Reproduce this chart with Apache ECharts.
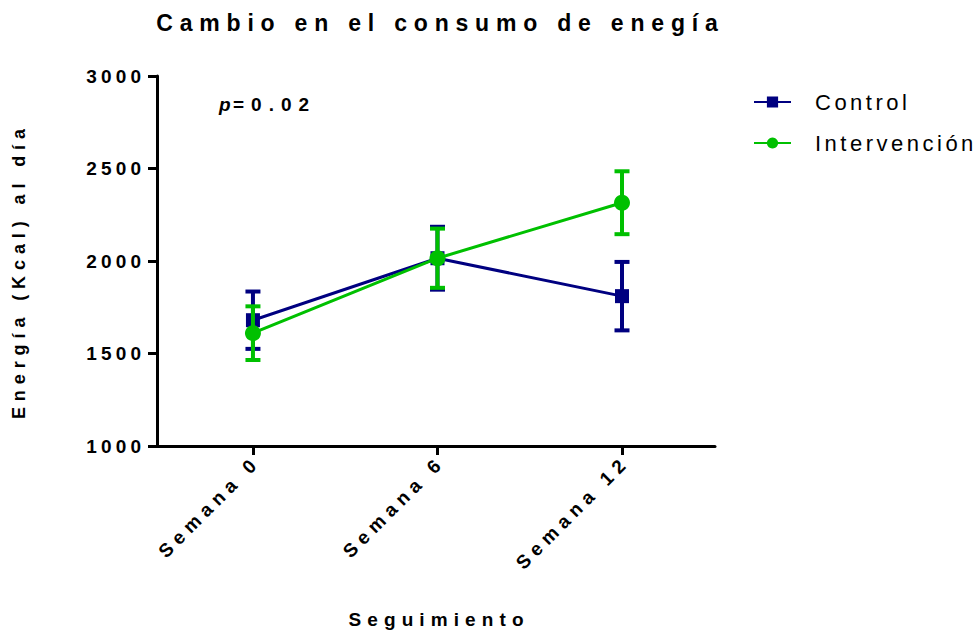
<!DOCTYPE html>
<html>
<head>
<meta charset="utf-8">
<script src="https://cdn.jsdelivr.net/npm/echarts@6/dist/echarts.min.js"></script>
<style>
  html, body { margin: 0; padding: 0; background: #fff; }
  #chart { width: 980px; height: 634px; }
</style>
</head>
<body>
<div id="chart"></div>
<script>
// Energy intake over follow-up: group means with standard error bars
const titleText = 'Cambio en el consumo de enegía';
const yAxisName = 'Energía (Kcal) al día';
const xAxisName = 'Seguimiento';
const categories = ['Semana 0', 'Semana 6', 'Semana 12'];
const seriesNames = ['Control', 'Intervención'];
const controlMean = [1680, 2015, 1810];
const controlSem = [155, 170, 185];
const intervMean = [1610, 2015, 2315];
const intervSem = [145, 160, 170];
const yTicks = [1000, 1500, 2000, 2500, 3000];
const pValueText = ['p', '=0.02'];

const FONT = '"Liberation Sans", Arial, Helvetica, sans-serif';
const BLUE = '#000080';
const GREEN = '#00C000';

// categories sit at positions 0, 1, 2 on a numeric axis with a little margin each side
const catPositions = categories.map((c, i) => i);

const chart = echarts.init(document.getElementById('chart'), null, { renderer: 'svg' });

function pairs(values) {
  return values.map((v, i) => [catPositions[i], v]);
}

function errorData(means, sems) {
  return means.map((m, i) => [catPositions[i], m, sems[i]]);
}

function renderErrorBar(params, api) {
  const idx = api.value(0);
  const mean = api.value(1);
  const sem = api.value(2);
  const top = api.coord([idx, mean + sem]);
  const bottom = api.coord([idx, mean - sem]);
  const half = 7.5;
  const style = { stroke: api.visual('color'), lineWidth: 4, fill: null };
  return {
    type: 'group',
    children: [
      { type: 'line', shape: { x1: top[0], y1: top[1], x2: bottom[0], y2: bottom[1] }, style },
      { type: 'line', shape: { x1: top[0] - half, y1: top[1], x2: top[0] + half, y2: top[1] }, style },
      { type: 'line', shape: { x1: bottom[0] - half, y1: bottom[1], x2: bottom[0] + half, y2: bottom[1] }, style }
    ]
  };
}

const option = {
  animation: false,
  backgroundColor: '#fff',
  textStyle: { fontFamily: FONT },
  title: {
    text: titleText,
    left: 432,
    top: 6,
    textAlign: 'center',
    textStyle: { fontFamily: FONT, fontSize: 23, fontWeight: 'bold', color: '#000' }
  },
  legend: {
    orient: 'vertical',
    left: 748,
    top: 86,
    itemWidth: 37,
    itemHeight: 14,
    itemGap: 19,
    data: seriesNames,
    textStyle: { fontFamily: FONT, fontSize: 22, color: '#000', padding: [0, 0, 0, 19] }
  },
  grid: { left: 157, right: 265, top: 76, bottom: 188, containLabel: false },
  xAxis: {
    type: 'value',
    min: -0.52,
    max: 2.504,
    name: xAxisName,
    nameLocation: 'middle',
    nameGap: 164,
    nameTextStyle: { fontFamily: FONT, fontSize: 19, fontWeight: 'bold', color: '#000' },
    axisLine: { onZero: false, lineStyle: { color: '#000', width: 3 } },
    axisTick: { show: true, length: 9, customValues: catPositions, lineStyle: { color: '#000', width: 3 } },
    axisLabel: {
      rotate: 45,
      margin: 17,
      customValues: catPositions,
      formatter: v => categories[Math.round(v)],
      fontFamily: FONT, fontSize: 19, fontWeight: 'bold', color: '#000'
    },
    splitLine: { show: false }
  },
  yAxis: {
    type: 'value',
    min: yTicks[0],
    max: yTicks[yTicks.length - 1],
    interval: yTicks[1] - yTicks[0],
    name: yAxisName,
    nameLocation: 'middle',
    nameGap: 129,
    nameTextStyle: { fontFamily: FONT, fontSize: 18, fontWeight: 'bold', color: '#000', padding: [0, 26, 0, 0] },
    axisLine: { show: true, onZero: false, lineStyle: { color: '#000', width: 3 } },
    axisTick: { show: true, length: 9, lineStyle: { color: '#000', width: 3 } },
    axisLabel: { margin: 16, formatter: v => String(v), fontFamily: FONT, fontSize: 19, fontWeight: 'bold', color: '#000' },
    splitLine: { show: false }
  },
  graphic: [
    {
      type: 'text',
      left: 219,
      top: 95,
      style: { text: pValueText[0], fontFamily: FONT, fontSize: 19, fontWeight: 'bold', fontStyle: 'italic', fill: '#000' }
    },
    {
      type: 'text',
      left: 233,
      top: 95,
      style: { text: pValueText[1], fontFamily: FONT, fontSize: 19, fontWeight: 'bold', fill: '#000' }
    }
  ],
  series: [
    {
      name: 'Control EE',
      type: 'custom',
      z: 2,
      itemStyle: { color: BLUE },
      renderItem: renderErrorBar,
      encode: { x: 0, y: 1 },
      data: errorData(controlMean, controlSem),
      silent: true
    },
    {
      name: seriesNames[0],
      type: 'line',
      z: 2,
      data: pairs(controlMean),
      symbol: 'rect',
      symbolSize: 14,
      color: BLUE,
      itemStyle: { color: BLUE },
      lineStyle: { color: BLUE, width: 3 }
    },
    {
      name: 'Intervención EE',
      type: 'custom',
      z: 3,
      itemStyle: { color: GREEN },
      renderItem: renderErrorBar,
      encode: { x: 0, y: 1 },
      data: errorData(intervMean, intervSem),
      silent: true
    },
    {
      name: seriesNames[1],
      type: 'line',
      z: 3,
      data: pairs(intervMean),
      symbol: 'circle',
      symbolSize: 16,
      color: GREEN,
      itemStyle: { color: GREEN },
      lineStyle: { color: GREEN, width: 3 }
    }
  ]
};

chart.setOption(option);

// Wide character spacing for every label, per text role; the shift keeps
// end- and middle-anchored texts in place despite the trailing gap
const spacing = new Map();
spacing.set(titleText, 6.8);
spacing.set(yAxisName, 5.9);
spacing.set(xAxisName, 6.1);
categories.forEach(c => spacing.set(c, 5.8));
seriesNames.forEach(s => spacing.set(s, 3.5));
yTicks.forEach(t => spacing.set(String(t), 4.2));
spacing.set(pValueText[1], 7);

function applySpacing() {
  document.querySelectorAll('#chart text').forEach(t => {
    const s = spacing.get(t.textContent);
    if (s === undefined) return;
    t.setAttribute('letter-spacing', s);
    const anchor = t.getAttribute('text-anchor');
    if (anchor === 'end') t.setAttribute('dx', s);
    else if (anchor === 'middle') t.setAttribute('dx', s / 2);
  });
}
chart.on('finished', applySpacing);
applySpacing();
requestAnimationFrame(applySpacing);
</script>
</body>
</html>
